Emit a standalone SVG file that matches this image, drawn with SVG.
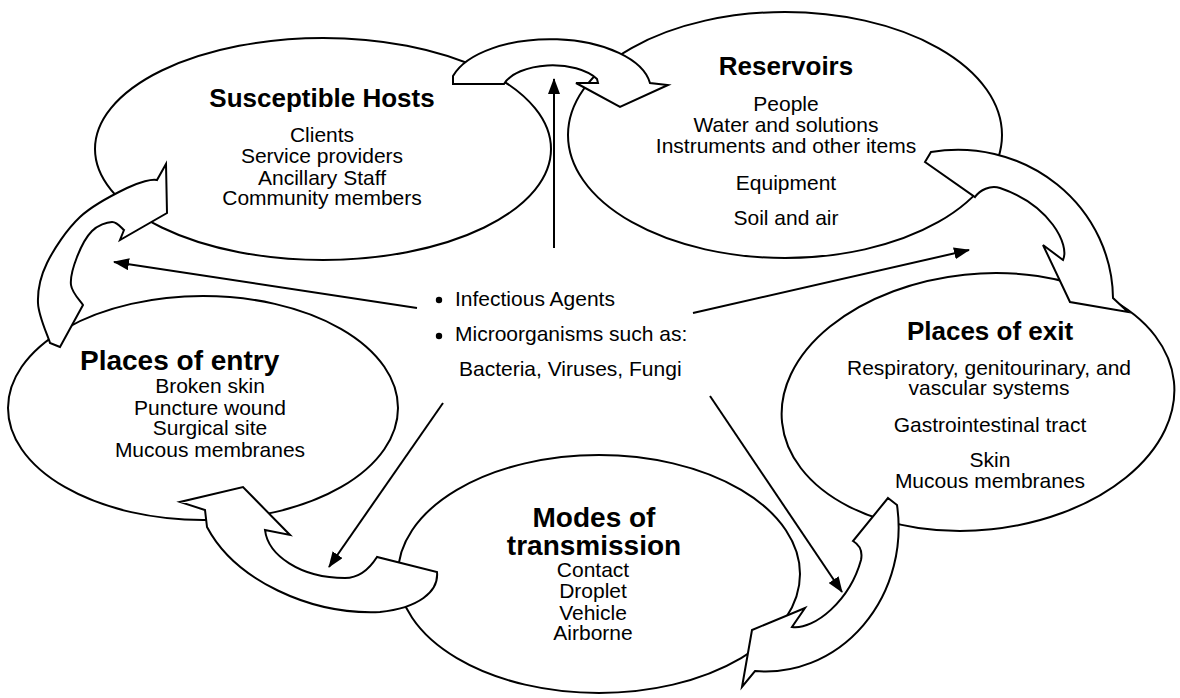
<svg xmlns="http://www.w3.org/2000/svg" width="1180" height="698" viewBox="0 0 1180 698">
<defs>
<style>
.ell{fill:#fff;stroke:#000;stroke-width:2}
.blk{fill:#fff;stroke:#000;stroke-width:2;stroke-linejoin:miter}
.ln{fill:none;stroke:#000;stroke-width:2}
text{font-family:"Liberation Sans",Arial,Helvetica,sans-serif;fill:#000}
.t{font-size:26px;font-weight:bold;text-anchor:middle}
.tb{font-size:28px;font-weight:bold}
.b{font-size:21px;text-anchor:middle}
.c{font-size:21px}
</style>
<marker id="ah" markerUnits="userSpaceOnUse" markerWidth="16" markerHeight="12" refX="15" refY="6" orient="auto"><path d="M0,0 L16,6 L0,12 Z" fill="#000"/></marker>
</defs>
<rect width="1180" height="698" fill="#fff"/>

<g id="susceptible-hosts">
<ellipse class="ell" cx="323" cy="149" rx="228" ry="111"/>
<text class="t" x="322" y="107">Susceptible Hosts</text>
<text class="b" x="322" y="142">Clients</text>
<text class="b" x="322" y="163">Service providers</text>
<text class="b" x="322" y="185">Ancillary Staff</text>
<text class="b" x="322" y="205">Community members</text>
</g>

<g id="reservoirs">
<ellipse class="ell" cx="785" cy="135" rx="217" ry="123"/>
<text class="t" x="786" y="75">Reservoirs</text>
<text class="b" x="786" y="111">People</text>
<text class="b" x="786" y="132">Water and solutions</text>
<text class="b" x="786" y="153">Instruments and other items</text>
<text class="b" x="786" y="190">Equipment</text>
<text class="b" x="786" y="225">Soil and air</text>
</g>

<g id="places-of-exit">
<ellipse class="ell" cx="978" cy="402" rx="197" ry="128" transform="rotate(-6 978 402)"/>
<text class="t" x="990" y="340">Places of exit</text>
<text class="b" x="989" y="375">Respiratory, genitourinary, and</text>
<text class="b" x="989" y="395">vascular systems</text>
<text class="b" x="990" y="432">Gastrointestinal tract</text>
<text class="b" x="990" y="467">Skin</text>
<text class="b" x="990" y="488">Mucous membranes</text>
</g>

<g id="modes-of-transmission">
<ellipse class="ell" cx="599" cy="574" rx="201" ry="119"/>
<text class="tb" x="594" y="527" text-anchor="middle">Modes of</text>
<text class="tb" x="594" y="555" text-anchor="middle">transmission</text>
<text class="b" x="593" y="577">Contact</text>
<text class="b" x="593" y="598">Droplet</text>
<text class="b" x="593" y="620">Vehicle</text>
<text class="b" x="593" y="640">Airborne</text>
</g>

<g id="places-of-entry">
<ellipse class="ell" cx="203" cy="408" rx="195" ry="112"/>
<text class="tb" x="80" y="370">Places of entry</text>
<text class="b" x="210" y="393">Broken skin</text>
<text class="b" x="210" y="415">Puncture wound</text>
<text class="b" x="210" y="435">Surgical site</text>
<text class="b" x="210" y="457">Mucous membranes</text>
</g>

<g id="infectious-agents">
<circle cx="439" cy="300" r="3.2" fill="#000"/>
<text class="c" x="455" y="306">Infectious Agents</text>
<circle cx="439" cy="336" r="3.2" fill="#000"/>
<text class="c" x="455" y="341">Microorganisms such as:</text>
<text class="c" x="459" y="376">Bacteria, Viruses, Fungi</text>
</g>

<g id="connectors">
<path class="blk" d="M453 84 L504 84 A51 27 0 0 1 597 79 L598 83 L576 83 L620 107 L668 85 L650 83 A101 51 0 0 0 453 76 Z"/>
<path class="blk" d="M925 162 L931 152 A155 150 0 0 1 1113 298 L1128 312 L1070 302 L1043 245 L1063 260 C1070 245 1050 205 1000 188 C990 185 980 190 975 197 Z"/>
<path class="blk" d="M888 498 L897 505 A133 144 0 0 1 755 671 L742 687 L752 630 L805 608 L792 627 C815 630 850 600 861 560 C863 550 858 544 853 541 Z"/>
<path class="blk" d="M207 527 L205 510 L180 502 L243 487 L290 535 L265 530 C268 555 300 578 345 578 C360 578 370 568 377 557 L437 572 C439 592 418 608 380 612 C310 615 235 580 207 527 Z"/>
<path class="blk" d="M60 347 L50 343 C48 336 38.5 316.3 38 303 C37.5 289.7 40 277.3 47 263 C54 248.7 66.7 229.5 80 217 C93.3 204.5 114.2 194.2 127 188 C139.8 181.8 152 178.7 157 180 L166 164 L167 213 L120 240 L124 230 C122 228.7 117.3 221.8 112 222 C106.7 222.2 97.8 225.2 92 231 C86.2 236.8 80.5 248 77 257 C73.5 266 70 277 71 285 C72 293 81 301.7 83 305 Z"/>
<line class="ln" x1="554" y1="248" x2="554" y2="79" marker-end="url(#ah)"/>
<line class="ln" x1="417" y1="308" x2="114" y2="262" marker-end="url(#ah)"/>
<line class="ln" x1="693" y1="313" x2="969" y2="250" marker-end="url(#ah)"/>
<line class="ln" x1="443" y1="403" x2="329" y2="567" marker-end="url(#ah)"/>
<line class="ln" x1="710" y1="396" x2="842" y2="592" marker-end="url(#ah)"/>
</g>
</svg>
